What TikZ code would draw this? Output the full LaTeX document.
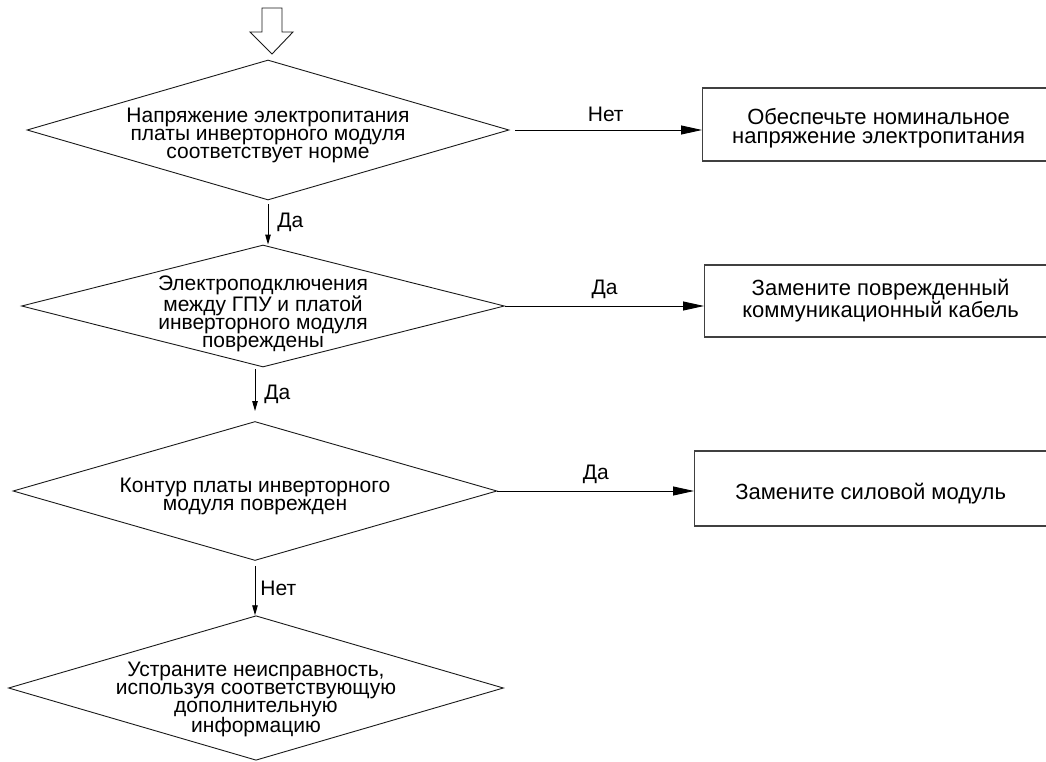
\documentclass[tikz,border=0pt]{standalone}
\usepackage{fontspec}
\setmainfont{Liberation Sans}
\usetikzlibrary{arrows.meta,shapes.geometric,calc}
\tikzset{
  decision/.style={draw=black!90, diamond, line width=0.9pt, inner sep=-14pt, shape aspect=3.4, align=center, font=\fontsize{21}{18}\selectfont},
  box/.style={draw=black!75, rectangle, line width=1.2pt, anchor=west, minimum width=352pt, align=center, font=\fontsize{22}{18.5}\selectfont},
  arrow/.style={-{Triangle[length=21pt,width=9pt]}, line width=0.9pt},
  thinarrow/.style={-{Triangle[length=10pt,width=5.5pt]}, line width=0.9pt},
  lbl/.style={font=\fontsize{21}{21}\selectfont, inner sep=2pt},
  bigarrow/.style={draw=black!90, line width=0.9pt, fill=white}
}

\begin{document}
\begin{tikzpicture}[x=1pt,y=-1pt]
\useasboundingbox (0,0) rectangle (1046,762);
% entry arrow
\draw[bigarrow] (262,8) -- (282,8) -- (282,32) -- (293,32) -- (272,54) -- (250,32) -- (262,32) -- cycle;
% checks
\node[decision, minimum width=482pt, minimum height=140pt, text height=62pt] (q1) at (268,130) {Напряжение электропитания\\платы инверторного модуля\\соответствует норме};
\node[decision, minimum width=483pt, minimum height=122pt, text height=88pt] (q2) at (263,306) {Электроподключения\\между ГПУ и платой\\инверторного модуля\\повреждены};
\node[decision, minimum width=484pt, minimum height=139pt, text height=44pt] (q3) at (255,491) {Контур платы инверторного\\модуля поврежден};
\node[decision, minimum width=495pt, minimum height=144pt, text height=94pt] (q4) at (256,688) {Устраните неисправность,\\используя соответствующую\\дополнительную\\информацию};
% actions
\node[box, minimum height=73pt, text height=42pt] (a1) at (702,124.5) {Обеспечьте номинальное\\напряжение электропитания};
\node[box, minimum height=72pt] (a2) at (704,301) {Замените поврежденный\\коммуникационный кабель};
\node[box, minimum height=75pt, text height=26pt] (a3) at (694,488.5) {Замените силовой модуль};
% links
\draw[thinarrow, shorten <=4pt] (q1.south) -- (q1.south |- q2.north) node[midway, right=7pt, lbl] {Да};
\draw[thinarrow, shorten <=2pt, shorten >=10pt] (q2.south -| q3.north) -- (q3.north) node[midway, right=7pt, lbl] {Да};
\draw[thinarrow, shorten <=5pt] (q3.south) -- (q3.south |- q4.north) node[midway, right=3pt, lbl] {Нет};
\draw[arrow, shorten <=6pt] (q1.east) -- (q1.east -| a1.west) node[midway, above=6pt, lbl] {Нет};
\draw[arrow] (q2.east) -- (q2.east -| a2.west) node[midway, above=5pt, lbl] {Да};
\draw[arrow] (q3.east) -- (q3.east -| a3.west) node[midway, above=5pt, lbl] {Да};
\end{tikzpicture}
\end{document}
